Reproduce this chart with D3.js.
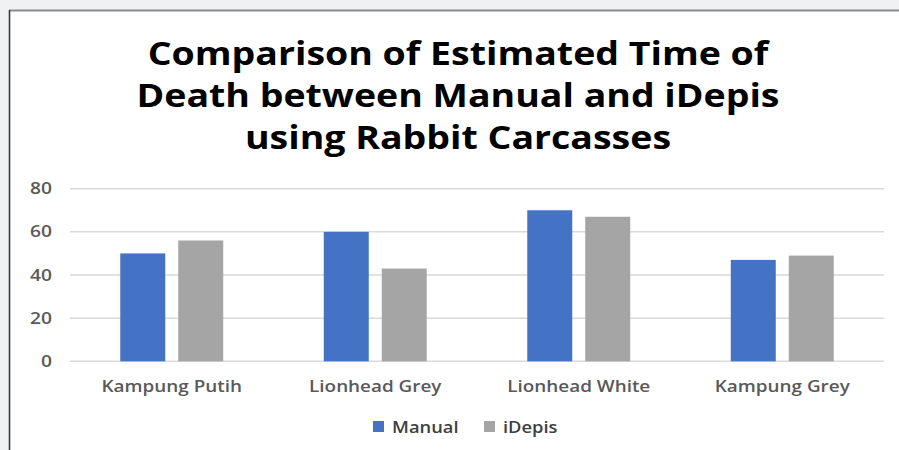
<!DOCTYPE html>
<html>
<head>
<meta charset="utf-8">
<script src="https://cdn.jsdelivr.net/npm/d3@7/dist/d3.min.js"></script>
<style>
  html, body { margin: 0; padding: 0; background: #f0f1f3; }
  svg { display: block; }
</style>
</head>
<body>
<svg id="chart" width="899" height="450"></svg>
<script>
// Chart data
const categories = ["Kampung Putih", "Lionhead Grey", "Lionhead White", "Kampung Grey"];
const seriesNames = ["Manual", "iDepis"];
const manualValues = [50, 60, 70, 47];
const idepisValues = [56, 43, 67, 49];
const yTicks = [0, 20, 40, 60, 80];
const titleLines = ["Comparison of Estimated Time of", "Death between Manual and iDepis", "using Rabbit Carcasses"];

const colors = { Manual: "#4472c4", iDepis: "#a5a5a5" };
const valuesBySeries = { Manual: manualValues, iDepis: idepisValues };

const W = 899, H = 450;
const svg = d3.select("#chart");

// Frame: white panel with thin borders on top and left
svg.append("rect").attr("x", 9).attr("y", 10).attr("width", W - 9).attr("height", H - 10).attr("fill", "#ffffff");
svg.append("line").attr("x1", 9).attr("x2", W).attr("y1", 10.5).attr("y2", 10.5)
  .attr("stroke", "#8a8a8a").attr("stroke-width", 2);
svg.append("line").attr("x1", 9.5).attr("x2", 9.5).attr("y1", 10).attr("y2", H)
  .attr("stroke", "#3a3a3a").attr("stroke-width", 1.6);

// Horizontal text stretch
function stretch(k) {
  return sel => sel.each(function () {
    const w = this.getComputedTextLength();
    d3.select(this).attr("textLength", w * k).attr("lengthAdjust", "spacingAndGlyphs");
  });
}

// Title
svg.append("g").selectAll("text").data(titleLines).join("text")
  .attr("x", 458).attr("y", (d, i) => 65 + i * 42)
  .attr("text-anchor", "middle")
  .attr("font-family", "'Open Sans', sans-serif").attr("font-weight", 700)
  .attr("font-size", 31.5).attr("fill", "#000")
  .text(d => d)
  .call(stretch(1.19));

// Scales
const plot = { left: 70, right: 884, top: 188.7, bottom: 361.3 };
const y = d3.scaleLinear().domain([0, 80]).range([plot.bottom, plot.top]);
const x0 = d3.scaleBand().domain(categories).range([plot.left, plot.right])
  .paddingInner(0.494).paddingOuter(0.247);
const x1 = d3.scaleBand().domain(seriesNames).range([0, x0.bandwidth()]).paddingInner(0.224);

// Gridlines
svg.append("g").selectAll("line").data(yTicks).join("line")
  .attr("x1", plot.left).attr("x2", plot.right)
  .attr("y1", d => y(d)).attr("y2", d => y(d))
  .attr("stroke", "#d9d9d9").attr("stroke-width", 1.5);

// Y axis labels
const yAxis = d3.axisLeft(y).tickValues(yTicks).tickSize(0).tickPadding(0);
const yg = svg.append("g").attr("transform", "translate(52,0)").call(yAxis);
yg.select(".domain").remove();
yg.selectAll("text")
  .attr("font-family", "'Open Sans', sans-serif").attr("font-weight", 600)
  .attr("font-size", 16).attr("fill", "#595959").call(stretch(1.2));

// Bars
const groups = svg.append("g").selectAll("g").data(categories).join("g")
  .attr("transform", d => `translate(${x0(d)},0)`);
groups.selectAll("rect")
  .data((c, i) => seriesNames.map(s => ({ s, v: valuesBySeries[s][i] })))
  .join("rect")
  .attr("x", d => x1(d.s)).attr("width", x1.bandwidth())
  .attr("y", d => y(d.v)).attr("height", d => y(0) - y(d.v))
  .attr("fill", d => colors[d.s]);

// Category axis
const xAxis = d3.axisBottom(x0).tickSize(0).tickPadding(0);
const xg = svg.append("g").attr("transform", `translate(0,${plot.bottom})`).call(xAxis);
xg.select(".domain").remove();
xg.selectAll("text")
  .attr("y", 30.5).attr("dy", null)
  .attr("font-family", "'Open Sans', sans-serif").attr("font-weight", 600)
  .attr("font-size", 16).attr("fill", "#595959").call(stretch(1.18));

// Legend
const legendItems = [{ s: "Manual", x: 373 }, { s: "iDepis", x: 484 }];
const lg = svg.append("g").selectAll("g").data(legendItems).join("g")
  .attr("transform", d => `translate(${d.x},421)`);
lg.append("rect").attr("width", 11).attr("height", 11).attr("fill", d => colors[d.s]);
lg.append("text").attr("x", 19).attr("y", 12)
  .attr("font-family", "'Open Sans', sans-serif").attr("font-weight", 600)
  .attr("font-size", 16.5).attr("fill", "#404040")
  .text(d => d.s).call(stretch(1.11));
</script>
</body>
</html>
